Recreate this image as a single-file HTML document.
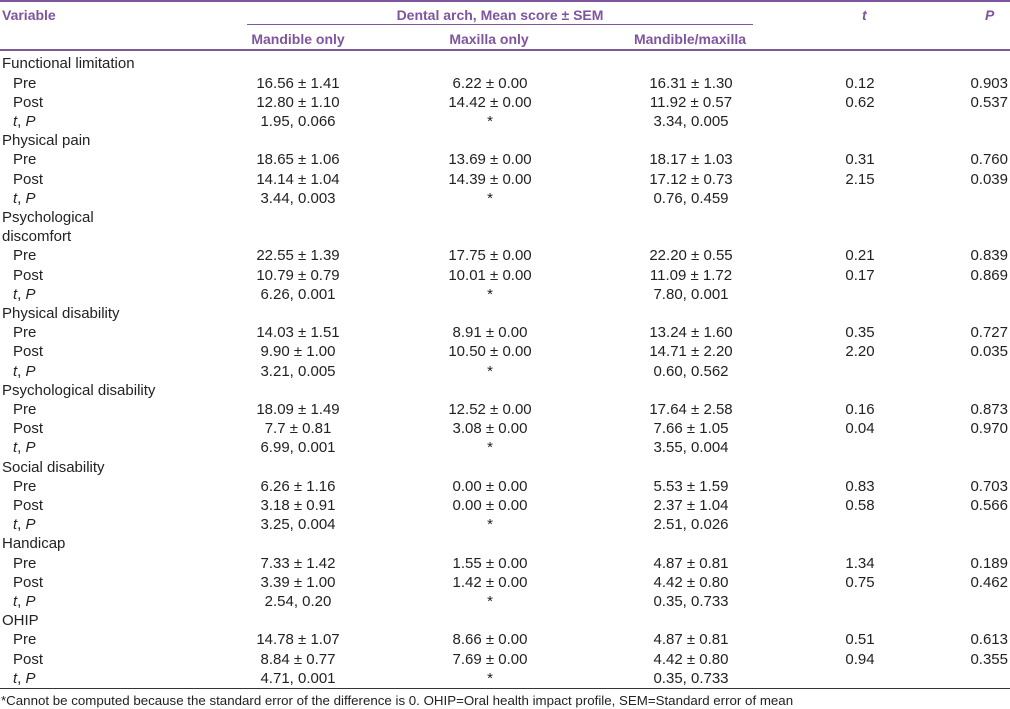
<!DOCTYPE html>
<html><head><meta charset="utf-8"><style>
body{margin:0;background:#fff;width:1010px;height:709px;overflow:hidden;position:relative;font-family:"Liberation Sans",sans-serif;color:#222;}
.a{position:absolute;white-space:nowrap;}
.h{color:#7f559e;font-weight:bold;font-size:14px;}
.r{position:absolute;left:0;width:1010px;height:19.2px;font-size:15px;line-height:19.2px;}
.r span{position:absolute;top:0;white-space:nowrap;}
.c1{left:298px;transform:translateX(-50%);}
.c2{left:490px;transform:translateX(-50%);}
.c3{left:691px;transform:translateX(-50%);}
.c4{left:860px;transform:translateX(-50%);}
.c5{right:2px;}
.l0{left:2px;}
.l1{left:13px;}
i{font-style:italic;}
.line{position:absolute;background:#7f559e;}
</style></head><body>
<div class="line" style="left:0;top:0;width:1010px;height:2px"></div>
<div class="a h" style="left:2px;top:7px">Variable</div>
<div class="a h" style="left:500px;top:7px;transform:translateX(-50%)">Dental arch, Mean score ± SEM</div>
<div class="a h" style="left:862px;top:7px;font-style:italic">t</div>
<div class="a h" style="left:985px;top:7px;font-style:italic">P</div>
<div class="line" style="left:247px;top:24px;width:506px;height:1px"></div>
<div class="a h" style="left:298px;top:31px;transform:translateX(-50%)">Mandible only</div>
<div class="a h" style="left:489px;top:31px;transform:translateX(-50%)">Maxilla only</div>
<div class="a h" style="left:690px;top:31px;transform:translateX(-50%)">Mandible/maxilla</div>
<div class="line" style="left:0;top:49px;width:1010px;height:2px"></div>

<div class="r" style="top:54.4px"><span class="l0">Functional limitation</span></div>
<div class="r" style="top:73.6px"><span class="l1">Pre</span><span class="c1">16.56 ± 1.41</span><span class="c2">6.22 ± 0.00</span><span class="c3">16.31 ± 1.30</span><span class="c4">0.12</span><span class="c5">0.903</span></div>
<div class="r" style="top:92.8px"><span class="l1">Post</span><span class="c1">12.80 ± 1.10</span><span class="c2">14.42 ± 0.00</span><span class="c3">11.92 ± 0.57</span><span class="c4">0.62</span><span class="c5">0.537</span></div>
<div class="r" style="top:112px"><span class="l1"><i>t</i>, <i>P</i></span><span class="c1">1.95, 0.066</span><span class="c2">*</span><span class="c3">3.34, 0.005</span></div>

<div class="r" style="top:131.2px"><span class="l0">Physical pain</span></div>
<div class="r" style="top:150.4px"><span class="l1">Pre</span><span class="c1">18.65 ± 1.06</span><span class="c2">13.69 ± 0.00</span><span class="c3">18.17 ± 1.03</span><span class="c4">0.31</span><span class="c5">0.760</span></div>
<div class="r" style="top:169.6px"><span class="l1">Post</span><span class="c1">14.14 ± 1.04</span><span class="c2">14.39 ± 0.00</span><span class="c3">17.12 ± 0.73</span><span class="c4">2.15</span><span class="c5">0.039</span></div>
<div class="r" style="top:188.8px"><span class="l1"><i>t</i>, <i>P</i></span><span class="c1">3.44, 0.003</span><span class="c2">*</span><span class="c3">0.76, 0.459</span></div>

<div class="r" style="top:208px"><span class="l0">Psychological</span></div>
<div class="r" style="top:227.2px"><span class="l0">discomfort</span></div>
<div class="r" style="top:246.4px"><span class="l1">Pre</span><span class="c1">22.55 ± 1.39</span><span class="c2">17.75 ± 0.00</span><span class="c3">22.20 ± 0.55</span><span class="c4">0.21</span><span class="c5">0.839</span></div>
<div class="r" style="top:265.6px"><span class="l1">Post</span><span class="c1">10.79 ± 0.79</span><span class="c2">10.01 ± 0.00</span><span class="c3">11.09 ± 1.72</span><span class="c4">0.17</span><span class="c5">0.869</span></div>
<div class="r" style="top:284.8px"><span class="l1"><i>t</i>, <i>P</i></span><span class="c1">6.26, 0.001</span><span class="c2">*</span><span class="c3">7.80, 0.001</span></div>

<div class="r" style="top:304px"><span class="l0">Physical disability</span></div>
<div class="r" style="top:323.2px"><span class="l1">Pre</span><span class="c1">14.03 ± 1.51</span><span class="c2">8.91 ± 0.00</span><span class="c3">13.24 ± 1.60</span><span class="c4">0.35</span><span class="c5">0.727</span></div>
<div class="r" style="top:342.4px"><span class="l1">Post</span><span class="c1">9.90 ± 1.00</span><span class="c2">10.50 ± 0.00</span><span class="c3">14.71 ± 2.20</span><span class="c4">2.20</span><span class="c5">0.035</span></div>
<div class="r" style="top:361.6px"><span class="l1"><i>t</i>, <i>P</i></span><span class="c1">3.21, 0.005</span><span class="c2">*</span><span class="c3">0.60, 0.562</span></div>

<div class="r" style="top:380.8px"><span class="l0">Psychological disability</span></div>
<div class="r" style="top:400px"><span class="l1">Pre</span><span class="c1">18.09 ± 1.49</span><span class="c2">12.52 ± 0.00</span><span class="c3">17.64 ± 2.58</span><span class="c4">0.16</span><span class="c5">0.873</span></div>
<div class="r" style="top:419.2px"><span class="l1">Post</span><span class="c1">7.7 ± 0.81</span><span class="c2">3.08 ± 0.00</span><span class="c3">7.66 ± 1.05</span><span class="c4">0.04</span><span class="c5">0.970</span></div>
<div class="r" style="top:438.4px"><span class="l1"><i>t</i>, <i>P</i></span><span class="c1">6.99, 0.001</span><span class="c2">*</span><span class="c3">3.55, 0.004</span></div>

<div class="r" style="top:457.6px"><span class="l0">Social disability</span></div>
<div class="r" style="top:476.8px"><span class="l1">Pre</span><span class="c1">6.26 ± 1.16</span><span class="c2">0.00 ± 0.00</span><span class="c3">5.53 ± 1.59</span><span class="c4">0.83</span><span class="c5">0.703</span></div>
<div class="r" style="top:496px"><span class="l1">Post</span><span class="c1">3.18 ± 0.91</span><span class="c2">0.00 ± 0.00</span><span class="c3">2.37 ± 1.04</span><span class="c4">0.58</span><span class="c5">0.566</span></div>
<div class="r" style="top:515.2px"><span class="l1"><i>t</i>, <i>P</i></span><span class="c1">3.25, 0.004</span><span class="c2">*</span><span class="c3">2.51, 0.026</span></div>

<div class="r" style="top:534.4px"><span class="l0">Handicap</span></div>
<div class="r" style="top:553.6px"><span class="l1">Pre</span><span class="c1">7.33 ± 1.42</span><span class="c2">1.55 ± 0.00</span><span class="c3">4.87 ± 0.81</span><span class="c4">1.34</span><span class="c5">0.189</span></div>
<div class="r" style="top:572.8px"><span class="l1">Post</span><span class="c1">3.39 ± 1.00</span><span class="c2">1.42 ± 0.00</span><span class="c3">4.42 ± 0.80</span><span class="c4">0.75</span><span class="c5">0.462</span></div>
<div class="r" style="top:592px"><span class="l1"><i>t</i>, <i>P</i></span><span class="c1">2.54, 0.20</span><span class="c2">*</span><span class="c3">0.35, 0.733</span></div>

<div class="r" style="top:611.2px"><span class="l0">OHIP</span></div>
<div class="r" style="top:630.4px"><span class="l1">Pre</span><span class="c1">14.78 ± 1.07</span><span class="c2">8.66 ± 0.00</span><span class="c3">4.87 ± 0.81</span><span class="c4">0.51</span><span class="c5">0.613</span></div>
<div class="r" style="top:649.6px"><span class="l1">Post</span><span class="c1">8.84 ± 0.77</span><span class="c2">7.69 ± 0.00</span><span class="c3">4.42 ± 0.80</span><span class="c4">0.94</span><span class="c5">0.355</span></div>
<div class="r" style="top:668.8px"><span class="l1"><i>t</i>, <i>P</i></span><span class="c1">4.71, 0.001</span><span class="c2">*</span><span class="c3">0.35, 0.733</span></div>

<div class="line" style="left:0;top:688px;width:1010px;height:1px;background:#333"></div>
<div class="a" style="left:1px;top:693px;font-size:13.3px;color:#222">*Cannot be computed because the standard error of the difference is 0. OHIP=Oral health impact profile, SEM=Standard error of mean</div>
</body></html>
